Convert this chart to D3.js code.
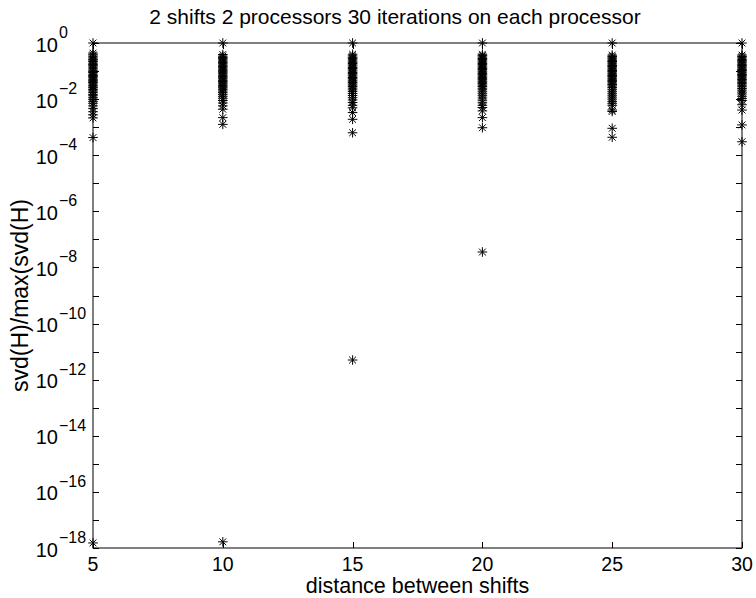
<!DOCTYPE html>
<html><head><meta charset="utf-8">
<script src="https://cdn.jsdelivr.net/npm/d3@7"></script>
<style>body{margin:0;background:#fff}svg{display:block}text{font-family:"Liberation Sans",Arial,sans-serif;fill:#000}</style>
</head><body>
<svg id="c" width="756" height="598"></svg>
<script>
// x categories (distance between shifts)
const distances = [5, 10, 15, 20, 25, 30];
// log10 of svd(H)/max(svd(H)), one list per distance
const logSv5  = [0,-0.36,-0.42,-0.47,-0.53,-0.58,-0.61,-0.66,-0.72,-0.77,-0.81,-0.86,-0.92,-0.97,-1.02,-1.05,-1.11,-1.16,-1.2,-1.24,-1.29,-1.33,-1.38,-1.41,-1.46,-1.52,-1.57,-1.6,-1.66,-1.71,-1.77,-1.83,-1.88,-1.95,-2.01,-2.08,-2.15,-2.24,-2.33,-2.45,-2.56,-2.67,-3.37,-17.82];
const logSv10 = [0,-0.41,-0.47,-0.52,-0.56,-0.6,-0.65,-0.7,-0.74,-0.79,-0.83,-0.88,-0.93,-0.97,-1.01,-1.06,-1.1,-1.15,-1.19,-1.24,-1.28,-1.33,-1.37,-1.42,-1.46,-1.51,-1.56,-1.6,-1.65,-1.71,-1.77,-1.83,-1.9,-1.97,-2.05,-2.14,-2.24,-2.36,-2.66,-2.9,-17.78];
const logSv15 = [0,-0.4,-0.46,-0.51,-0.55,-0.6,-0.64,-0.69,-0.73,-0.78,-0.82,-0.87,-0.91,-0.96,-1.0,-1.05,-1.09,-1.14,-1.18,-1.23,-1.27,-1.32,-1.36,-1.41,-1.46,-1.5,-1.55,-1.61,-1.67,-1.73,-1.8,-1.87,-1.95,-2.03,-2.12,-2.22,-2.31,-2.48,-2.72,-3.2,-11.3];
const logSv20 = [0,-0.4,-0.45,-0.5,-0.55,-0.59,-0.64,-0.68,-0.73,-0.77,-0.82,-0.86,-0.91,-0.95,-1.0,-1.04,-1.09,-1.13,-1.18,-1.22,-1.27,-1.31,-1.36,-1.4,-1.45,-1.5,-1.55,-1.61,-1.67,-1.74,-1.81,-1.88,-1.96,-2.04,-2.13,-2.22,-2.3,-2.42,-2.66,-3.02,-7.45];
const logSv25 = [0,-0.43,-0.48,-0.53,-0.57,-0.62,-0.66,-0.71,-0.75,-0.8,-0.84,-0.89,-0.93,-0.98,-1.02,-1.07,-1.11,-1.16,-1.2,-1.25,-1.29,-1.34,-1.38,-1.43,-1.48,-1.53,-1.59,-1.65,-1.72,-1.79,-1.86,-1.93,-2.0,-2.08,-2.15,-2.22,-2.39,-2.44,-3.04,-3.36];
const logSv30 = [0,-0.43,-0.48,-0.53,-0.58,-0.62,-0.67,-0.71,-0.76,-0.8,-0.85,-0.89,-0.94,-0.98,-1.03,-1.07,-1.12,-1.16,-1.21,-1.25,-1.3,-1.35,-1.4,-1.45,-1.5,-1.56,-1.62,-1.68,-1.75,-1.82,-1.9,-1.98,-2.05,-2.2,-2.39,-2.92,-3.52];
const xTicks = [5, 10, 15, 20, 25, 30];
const yTickExps = [0,-1,-2,-3,-4,-5,-6,-7,-8,-9,-10,-11,-12,-13,-14,-15,-16,-17,-18];
const yLabelExps = [0,-2,-4,-6,-8,-10,-12,-14,-16,-18];
const titleText = "2 shifts 2 processors 30 iterations on each processor";
const xLabelText = "distance between shifts";
const yLabelText = "svd(H)/max(svd(H)";

const columns = [logSv5, logSv10, logSv15, logSv20, logSv25, logSv30];
const points = [];
columns.forEach((col, i) => col.forEach(e => points.push({x: distances[i], v: Math.pow(10, e)})));

const L = 93, R = 742, T = 43, B = 548;
const x = d3.scaleLinear().domain([5, 30]).range([L, R]);
const y = d3.scaleLog().domain([1e-18, 1]).range([B, T]);
const svg = d3.select("#c");
const tl = 6;

// box
svg.append("rect").attr("x", L).attr("y", T).attr("width", R - L).attr("height", B - T)
  .attr("fill", "none").attr("stroke", "#000").attr("stroke-width", 1);

// ticks
const tg = svg.append("g").attr("stroke", "#000").attr("stroke-width", 1);
xTicks.forEach(t => {
  const px = Math.round(x(t)) + 0.5;
  tg.append("line").attr("x1", px).attr("x2", px).attr("y1", B).attr("y2", B - tl);
  tg.append("line").attr("x1", px).attr("x2", px).attr("y1", T).attr("y2", T + tl);
});
yTickExps.forEach(e => {
  const py = Math.round(y(Math.pow(10, e))) + 0.5;
  tg.append("line").attr("x1", L).attr("x2", L + tl).attr("y1", py).attr("y2", py);
  tg.append("line").attr("x1", R).attr("x2", R - tl).attr("y1", py).attr("y2", py);
});

// x tick labels
svg.append("g").selectAll("text").data(xTicks).join("text")
  .attr("x", d => x(d)).attr("y", 570.5).attr("text-anchor", "middle")
  .attr("font-size", 19.5).text(d => d);

// y tick labels
const yl = svg.append("g");
yLabelExps.forEach(e => {
  const py = y(Math.pow(10, e));
  yl.append("text").attr("x", 58).attr("y", py + 8.5).attr("text-anchor", "end")
    .attr("font-size", 20).text("10");
  yl.append("text").attr("x", 59).attr("y", py - 5).attr("text-anchor", "start")
    .attr("font-size", 16).text(e === 0 ? "0" : "\u2212" + Math.abs(e));
});

// markers (asterisk = plus + x)
const a = 4.8, b = 3.4;
const star = `M${-a},0L${a},0M0,${-a}L0,${a}M${-b},${-b}L${b},${b}M${-b},${b}L${b},${-b}`;
svg.append("g").selectAll("path").data(points).join("path")
  .attr("transform", d => `translate(${x(d.x)},${y(d.v)})`)
  .attr("d", star).attr("fill", "none").attr("stroke", "#000").attr("stroke-width", 1);

// title & labels
svg.append("text").attr("x", 395).attr("y", 24).attr("text-anchor", "middle")
  .attr("font-size", 21).text(titleText);
svg.append("text").attr("x", (L + R) / 2).attr("y", 593.4).attr("text-anchor", "middle")
  .attr("font-size", 21.5).text(xLabelText);
svg.append("text").attr("transform", `translate(28,${(T + B) / 2}) rotate(-90)`)
  .attr("text-anchor", "middle").attr("font-size", 23).text(yLabelText);
</script>
</body></html>
